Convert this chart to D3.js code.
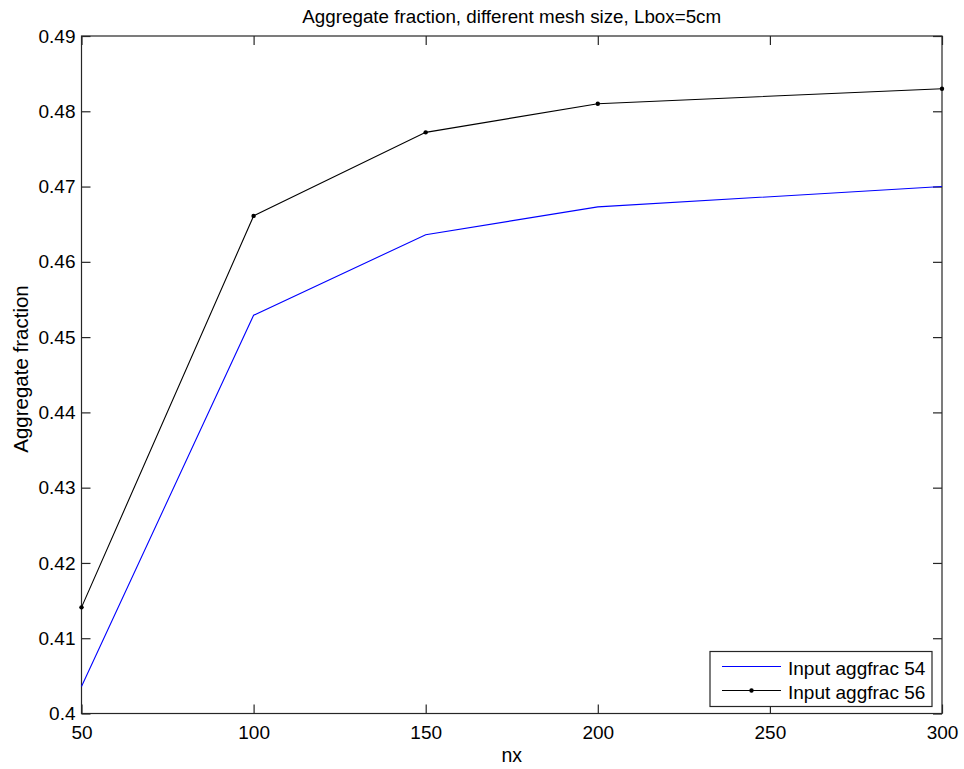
<!DOCTYPE html>
<html>
<head>
<meta charset="utf-8">
<script src="https://cdn.jsdelivr.net/npm/d3@7"></script>
<style>
  html, body { margin: 0; padding: 0; background: #fff; }
  svg { display: block; font-family: "Liberation Sans", Arial, Helvetica, sans-serif; }
</style>
</head>
<body>
<svg id="chart" width="964" height="769"></svg>
<script>
// Mesh resolution (nx) sampled
const nx = [50, 100, 150, 200, 300];
// Resulting aggregate fraction for each input setting
const agg54 = [0.4036, 0.4529, 0.4636, 0.4673, 0.4700];
const agg56 = [0.4141, 0.4661, 0.4772, 0.4810, 0.4830];
const seriesNames = ["Input aggfrac 54", "Input aggfrac 56"];
const xTicks = [50, 100, 150, 200, 250, 300];
const yTicks = [0.40, 0.41, 0.42, 0.43, 0.44, 0.45, 0.46, 0.47, 0.48, 0.49];

const svg = d3.select("#chart");
const plotL = 81.5, plotR = 942, plotT = 36, plotB = 713.5;
const fs = 19;

const x = d3.scaleLinear().domain([50, 300]).range([plotL, plotR]);
const y = d3.scaleLinear().domain([0.40, 0.49]).range([plotB, plotT]);

const tickLen = 9;
const g = svg.append("g");

// axes box
g.append("rect")
  .attr("x", plotL).attr("y", plotT)
  .attr("width", plotR - plotL).attr("height", plotB - plotT)
  .attr("fill", "none").attr("stroke", "#262626").attr("stroke-width", 1.2);

// bottom axis with inward ticks, mirrored on top
const xAxis = d3.axisBottom(x).tickValues(xTicks).tickSize(-tickLen).tickPadding(12)
  .tickFormat(d3.format("d"));
const gx = g.append("g").attr("transform", `translate(0,${plotB})`).call(xAxis);
const xAxisTop = d3.axisTop(x).tickValues(xTicks).tickSize(-tickLen).tickFormat("");
const gxt = g.append("g").attr("transform", `translate(0,${plotT})`).call(xAxisTop);

// left axis with inward ticks, mirrored on right
const yAxis = d3.axisLeft(y).tickValues(yTicks).tickSize(-tickLen).tickPadding(6)
  .tickFormat(d => String(+d.toFixed(2)));
const gy = g.append("g").attr("transform", `translate(${plotL},0)`).call(yAxis);
const yAxisRight = d3.axisRight(y).tickValues(yTicks).tickSize(-tickLen).tickFormat("");
const gyr = g.append("g").attr("transform", `translate(${plotR},0)`).call(yAxisRight);

[gx, gxt, gy, gyr].forEach(a => {
  a.select(".domain").remove();
  a.selectAll(".tick line").attr("stroke", "#262626").attr("stroke-width", 1.2);
  a.selectAll(".tick text").attr("fill", "#000").style("font-size", fs + "px")
    .style("font-family", "\"Liberation Sans\", Arial, sans-serif");
});
gx.selectAll(".tick text").attr("dy", "0.71em");

// data lines
const line = d3.line().x((d, i) => x(nx[i])).y(d => y(d));

g.append("path").datum(agg54)
  .attr("d", line).attr("fill", "none")
  .attr("stroke", "#0000ff").attr("stroke-width", 1.1);

g.append("path").datum(agg56)
  .attr("d", line).attr("fill", "none")
  .attr("stroke", "#000").attr("stroke-width", 1.1);

g.selectAll(".dot56").data(agg56).enter().append("circle")
  .attr("class", "dot56")
  .attr("cx", (d, i) => x(nx[i])).attr("cy", d => y(d))
  .attr("r", 2.2).attr("fill", "#000");

// title and axis labels
svg.append("text")
  .attr("x", (plotL + plotR) / 2).attr("y", 23)
  .attr("text-anchor", "middle").style("font-size", "18.8px")
  .text("Aggregate fraction, different mesh size, Lbox=5cm");

svg.append("text")
  .attr("x", (plotL + plotR) / 2).attr("y", 761.5)
  .attr("text-anchor", "middle").style("font-size", "19.5px")
  .text("nx");

svg.append("text")
  .attr("transform", `translate(28,369) rotate(-90)`)
  .attr("text-anchor", "middle").style("font-size", "20.5px")
  .text("Aggregate fraction");

// legend
const lg = svg.append("g");
lg.append("rect")
  .attr("x", 710).attr("y", 651.5).attr("width", 222).attr("height", 55)
  .attr("fill", "#fff").attr("stroke", "#262626").attr("stroke-width", 1.2);

const legendRows = [
  { name: seriesNames[0], color: "#0000ff", dot: false, cy: 666.5 },
  { name: seriesNames[1], color: "#000", dot: true, cy: 690.5 }
];
legendRows.forEach(r => {
  lg.append("line").attr("x1", 722).attr("x2", 781)
    .attr("y1", r.cy).attr("y2", r.cy)
    .attr("stroke", r.color).attr("stroke-width", 1.1);
  if (r.dot) {
    lg.append("circle").attr("cx", 751.5).attr("cy", r.cy).attr("r", 2.2).attr("fill", "#000");
  }
  lg.append("text").attr("x", 788).attr("y", r.cy + 8)
    .style("font-size", fs + "px").text(r.name);
});
</script>
</body>
</html>
